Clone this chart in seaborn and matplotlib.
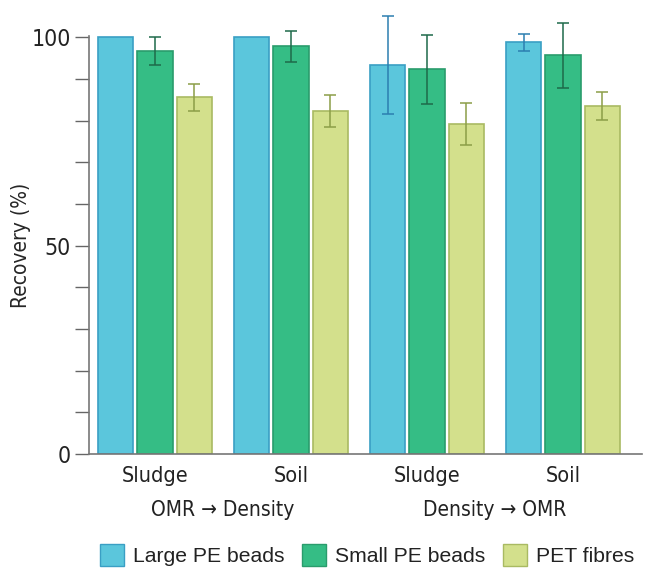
import matplotlib
matplotlib.use("Agg")
import matplotlib.pyplot as plt
from matplotlib.ticker import MultipleLocator
from matplotlib.patches import Patch
import seaborn as sns
import pandas as pd
import numpy as np

conditions = ["Sludge OMR", "Soil OMR", "Sludge Dens", "Soil Dens"]
tick_labels = ["Sludge", "Soil", "Sludge", "Soil"]
group_labels = ["OMR \u2192 Density", "Density \u2192 OMR"]
particles = ["Large PE beads", "Small PE beads", "PET fibres"]

large_pe = [100.0, 100.0, 93.3, 98.8]
small_pe = [96.7, 97.8, 92.3, 95.7]
pet_fibres = [85.6, 82.3, 79.2, 83.5]

large_err = [0.0, 0.0, 11.7, 2.0]
small_err = [3.3, 3.7, 8.3, 7.8]
pet_err = [3.2, 3.8, 5.0, 3.3]

colors = ["#5BC6DC", "#35BD85", "#D3E08C"]
edge_colors = ["#3A9FC4", "#2A9C6C", "#A9BA62"]
err_colors = ["#2C7FB0", "#1E6A4A", "#8C9E48"]

values = [large_pe, small_pe, pet_fibres]
errors = [large_err, small_err, pet_err]

df = pd.DataFrame({
    "condition": conditions * 3,
    "particle": np.repeat(particles, len(conditions)),
    "recovery": np.concatenate(values),
})

sns.set_style("white")
plt.rcParams["font.family"] = ["DejaVu Sans"]
plt.rcParams["font.stretch"] = "condensed"
plt.rcParams["text.color"] = "#222222"
regular = ["Liberation Sans", "DejaVu Sans"]

fig = plt.figure(figsize=(6.45, 5.68), dpi=100)
ax = fig.add_axes([89 / 645, 1 - 454 / 568, (642 - 89) / 645, (454 - 36) / 568])

sns.barplot(data=df, x="condition", y="recovery", hue="particle",
            order=conditions, hue_order=particles, palette=colors,
            width=0.867, gap=0.1, errorbar=None, legend=False, ax=ax,
            linewidth=1.2, saturation=1)

bar_containers = list(ax.containers)
for i, cont in enumerate(bar_containers):
    for j, patch in enumerate(cont.patches):
        patch.set_edgecolor(edge_colors[i])
        xc = patch.get_x() + patch.get_width() / 2
        h = patch.get_height()
        e = errors[i][j]
        if e > 0:
            ax.errorbar(xc, h, yerr=e, fmt="none", ecolor=err_colors[i],
                        elinewidth=1.1, capsize=4, capthick=1.1, clip_on=False,
                        zorder=5)

ax.set_xlim(-0.485, 3.58)
ax.set_ylim(0, 100.3)
ax.set_yticks([0, 50, 100])
ax.yaxis.set_minor_locator(MultipleLocator(10))
ax.tick_params(axis="y", which="both", direction="out", length=10, width=1,
               color="#666666", labelcolor="#222222", left=True, labelsize=16.5, pad=3)
ax.tick_params(axis="x", length=0, labelsize=15.5, pad=9, labelcolor="#222222")
ax.set_xticks(range(4))
ax.set_xticklabels(tick_labels)
ax.set_xlabel("")
ax.set_ylabel("Recovery (%)", fontsize=15)
ax.yaxis.set_label_coords(-0.105, 0.5)

for s in ["top", "right"]:
    ax.spines[s].set_visible(False)
for s in ["left", "bottom"]:
    ax.spines[s].set_color("#777777")
    ax.spines[s].set_linewidth(1.2)

for k, lab in enumerate(group_labels):
    ax.text(2 * k + 0.5, -0.135, lab, transform=ax.get_xaxis_transform(),
            ha="center", va="center", fontsize=15)

handles = [Patch(facecolor=c, edgecolor=ec, linewidth=1.0)
           for c, ec in zip(colors, edge_colors)]
fig.legend(handles, particles, loc="center", bbox_to_anchor=(367 / 645, 1 - 555 / 568),
           ncol=3, frameon=False, prop={"family": regular, "size": 15.2, "stretch": "normal"},
           handlelength=1.15, handleheight=1.25, handletextpad=0.4, columnspacing=0.85)

fig.savefig("out.png", dpi=100)
